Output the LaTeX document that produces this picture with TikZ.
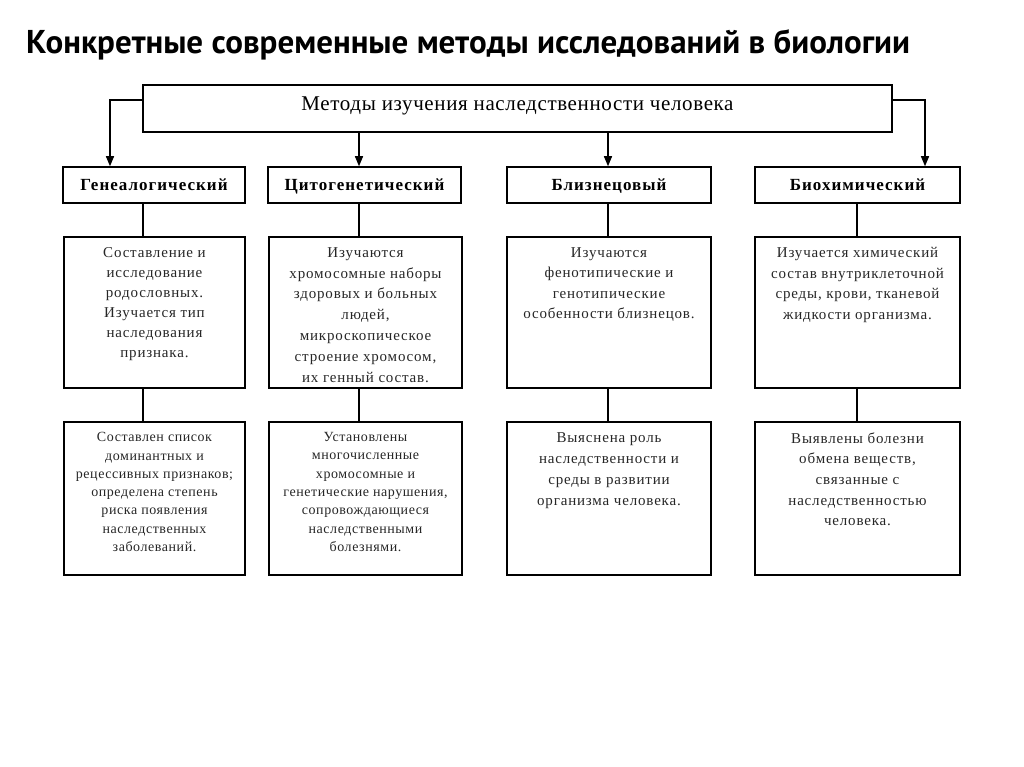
\documentclass[tikz,border=0pt]{standalone}
\usepackage{fontspec}
\setmainfont{Liberation Serif}
\newfontfamily\headfont{PT Sans}
\usetikzlibrary{positioning,arrows.meta,calc}

\begin{document}
\begin{tikzpicture}
  [
      x=1pt, y=-1pt,
      box/.style={rectangle, draw, line width=1.5pt, inner sep=0pt},
      topbox/.style={box, minimum width=749pt, minimum height=47pt, text height=14pt, text depth=9pt,
        font=\fontsize{21}{24}\selectfont\addfontfeatures{LetterSpace=3}},
      kind/.style={box, minimum width=#1, minimum height=36pt, text height=14pt, text depth=2pt,
        font=\fontsize{17}{20}\selectfont\bfseries\addfontfeatures{LetterSpace=6}},
      panel/.style={box, minimum width=#1, minimum height=151pt},
      txt/.style={align=center, inner sep=0pt, text=black!85, font=\fontsize{15}{#1}\selectfont\addfontfeatures{LetterSpace=5.5}},
      small txt/.style={txt=#1, font=\fontsize{14}{#1}\selectfont\addfontfeatures{LetterSpace=4}},
      link/.style={line width=1.3pt},
      arr/.style={link, -{Triangle[length=10pt, width=8pt]}},
    ]

    \useasboundingbox (0,0) rectangle (1024,767);

    \node (heading) [anchor=west, inner sep=0pt, font=\headfont\bfseries\fontsize{33}{38}\selectfont] at (26,45)
      {Конкретные современные методы исследований в биологии};

    \node (methods) [topbox] at (517.5,108.5) {Методы изучения наследственности человека};

    % methods
    \node (gen)  [kind=182pt] at (154,185)   {Генеалогический};
    \node (cyto) [kind=193pt] at (364.5,185) {Цитогенетический};
    \node (twin) [kind=204pt] at (609,185)   {Близнецовый};
    \node (bio)  [kind=205pt] at (857.5,185) {Биохимический};

    % what is studied
    \node (gendesc)  [panel=181pt] at (154.5,312.5) {};
    \node (cytodesc) [panel=193pt] at (365.5,312.5) {};
    \node (twindesc) [panel=204pt] at (609,312.5)   {};
    \node (biodesc)  [panel=205pt] at (857.5,312.5) {};

    % results
    \node (genres)  [panel=181pt, minimum height=153pt] at (154.5,498.5) {};
    \node (cytores) [panel=193pt, minimum height=153pt] at (365.5,498.5) {};
    \node (twinres) [panel=204pt, minimum height=153pt] at (609,498.5)   {};
    \node (biores)  [panel=205pt, minimum height=153pt] at (857.5,498.5) {};

    \node [txt=20pt, below=11pt of gendesc.north]
      {Составление и\\исследование\\родословных.\\Изучается тип\\наследования\\признака.};
    \node [txt=20.8pt, below=11pt of cytodesc.north]
      {Изучаются\\хромосомные наборы\\здоровых и больных\\людей,\\микроскопическое\\строение хромосом,\\их генный состав.};
    \node [txt=20.5pt, below=11pt of twindesc.north]
      {Изучаются\\фенотипические и\\генотипические\\особенности близнецов.};
    \node [txt=20.5pt, below=11pt of biodesc.north]
      {Изучается химический\\состав внутриклеточной\\среды, крови, тканевой\\жидкости организма.};

    \node [small txt=18.3pt, below=11pt of genres.north]
      {Составлен список\\доминантных и\\рецессивных признаков;\\определена степень\\риска появления\\наследственных\\заболеваний.};
    \node [small txt=18.3pt, below=11pt of cytores.north]
      {Установлены\\многочисленные\\хромосомные и\\генетические нарушения,\\сопровождающиеся\\наследственными\\болезнями.};
    \node [txt=21pt, below=11pt of twinres.north]
      {Выяснена роль\\наследственности и\\среды в развитии\\организма человека.};
    \node [txt=20.7pt, below=11pt of biores.north]
      {Выявлены болезни\\обмена веществ,\\связанные с\\наследственностью\\человека.};

    % connectors
    \coordinate (lbend) at (110,100);
    \coordinate (rbend) at (925,100);
    \coordinate (c1) at (143,0);
    \coordinate (c2) at (359,0);
    \coordinate (c3) at (608,0);
    \coordinate (c4) at (857,0);

    \draw [arr] (methods.west |- lbend) -| (gen.north -| lbend);
    \draw [arr] (methods.south -| c2) -- (cyto.north -| c2);
    \draw [arr] (methods.south -| c3) -- (twin.north -| c3);
    \draw [arr] (methods.east |- rbend) -| (bio.north -| rbend);

    \draw [link] (gen.south -| c1) -- (gendesc.north -| c1);
    \draw [link] (cyto.south -| c2) -- (cytodesc.north -| c2);
    \draw [link] (twin.south -| c3) -- (twindesc.north -| c3);
    \draw [link] (bio.south -| c4) -- (biodesc.north -| c4);

    \draw [link] (gendesc.south -| c1) -- (genres.north -| c1);
    \draw [link] (cytodesc.south -| c2) -- (cytores.north -| c2);
    \draw [link] (twindesc.south -| c3) -- (twinres.north -| c3);
    \draw [link] (biodesc.south -| c4) -- (biores.north -| c4);

  \end{tikzpicture}
\end{document}
